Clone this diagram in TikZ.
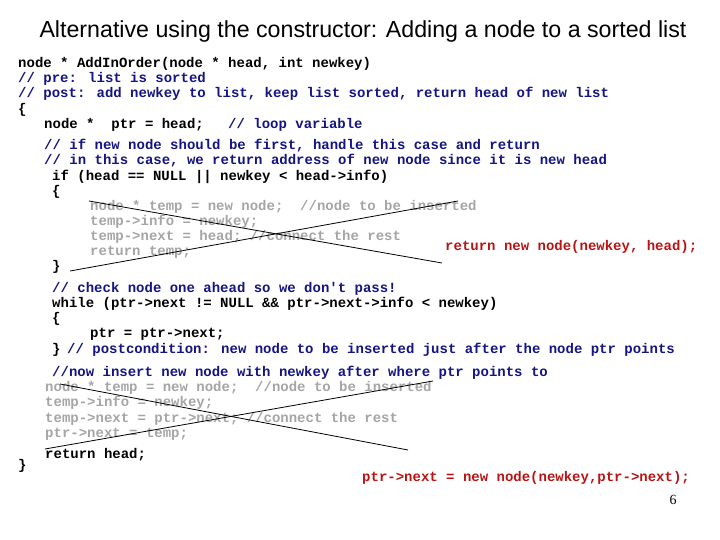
\documentclass[tikz,border=0pt]{standalone}
\usepackage{fontspec}
\setmainfont{Liberation Sans}
\newfontfamily\codefont{Liberation Mono}
\newfontfamily\pgfont{Liberation Serif}
\begin{document}
\begin{tikzpicture}[x=1pt,y=-1pt,
  code/.style={anchor=west,inner sep=0pt,font=\codefont\bfseries\fontsize{14}{15}\selectfont},
  cmt/.style={code,text={rgb,255:red,20;green,20;blue,130}},
  old/.style={code,text={rgb,255:red,165;green,165;blue,165}},
  red/.style={code,text={rgb,255:red,185;green,20;blue,20}},
  cross/.style={draw=black,line width=0.8pt}]
\useasboundingbox (0,0) rectangle (720,540);
\node[anchor=center,font=\fontsize{23.2}{26}\selectfont] (title) at (363,32) {Alternative using the constructor: Adding a node to a sorted list};
\node[code] (a1) at (18,64) {node * AddInOrder(node * head, int newkey)};
\node[cmt] (a2) at (18,79) {// pre: list is sorted};
\node[cmt] (a3) at (18,94) {// post: add newkey to list, keep list sorted, return head of new list};
\node[code] (a4) at (18,110) {\{};
\node[code] (a5) at (44,125) {node *~~ptr = head;};
\node[cmt] (a6) at (228,125) {// loop variable};
\node[cmt] (b1) at (44,146) {// if new node should be first, handle this case and return};
\node[cmt] (b2) at (44,161) {// in this case, we return address of new node since it is new head};
\node[code] (b3) at (52,177) {if (head == NULL || newkey < head->info)};
\node[code] (b4) at (52,192) {\{};
\node[old] (b5) at (90,207) {node * temp = new node;~~//node to be inserted};
\node[old] (b6) at (90,222) {temp->info = newkey;};
\node[old] (b7) at (90,237) {temp->next = head; //connect the rest};
\node[old] (b8) at (90,252) {return temp;};
\node[code] (b9) at (52,267) {\}};
\node[red] (r1) at (445,247) {return new node(newkey, head);};
\node[cmt] (c1) at (52,289) {// check node one ahead so we don't pass!};
\node[code] (c2) at (52,304) {while (ptr->next != NULL \&\& ptr->next->info < newkey)};
\node[code] (c3) at (52,319) {\{};
\node[code] (c4) at (90,334) {ptr = ptr->next;};
\node[code] (c5) at (52,350) {\}};
\node[cmt] (c6) at (67,350) {// postcondition: new node to be inserted just after the node ptr points};
\node[cmt] (d1) at (52,373) {//now insert new node with newkey after where ptr points to};
\node[old] (d2) at (45,388) {node * temp = new node;~~//node to be inserted};
\node[old] (d3) at (45,403) {temp->info = newkey;};
\node[old] (d4) at (45,419) {temp->next = ptr->next; //connect the rest};
\node[old] (d5) at (45,434) {ptr->next = temp;};
\node[code] (d6) at (45,455) {return head;};
\node[code] (d7) at (18,466) {\}};
\node[red] (r2) at (362,478) {ptr->next = new node(newkey,ptr->next);};
\node[font=\pgfont\fontsize{14}{16}\selectfont] (pg) at (673,500) {6};
\coordinate (x1a) at (89,201); \coordinate (x1b) at (442,263);
\coordinate (x1c) at (70,271); \coordinate (x1d) at (458,201);
\draw[cross] (x1a) -- (x1b); \draw[cross] (x1c) -- (x1d);
\coordinate (x2a) at (60,384); \coordinate (x2b) at (408,450);
\coordinate (x2c) at (45,449); \coordinate (x2d) at (433,381);
\draw[cross] (x2a) -- (x2b); \draw[cross] (x2c) -- (x2d);
\end{tikzpicture}
\end{document}
